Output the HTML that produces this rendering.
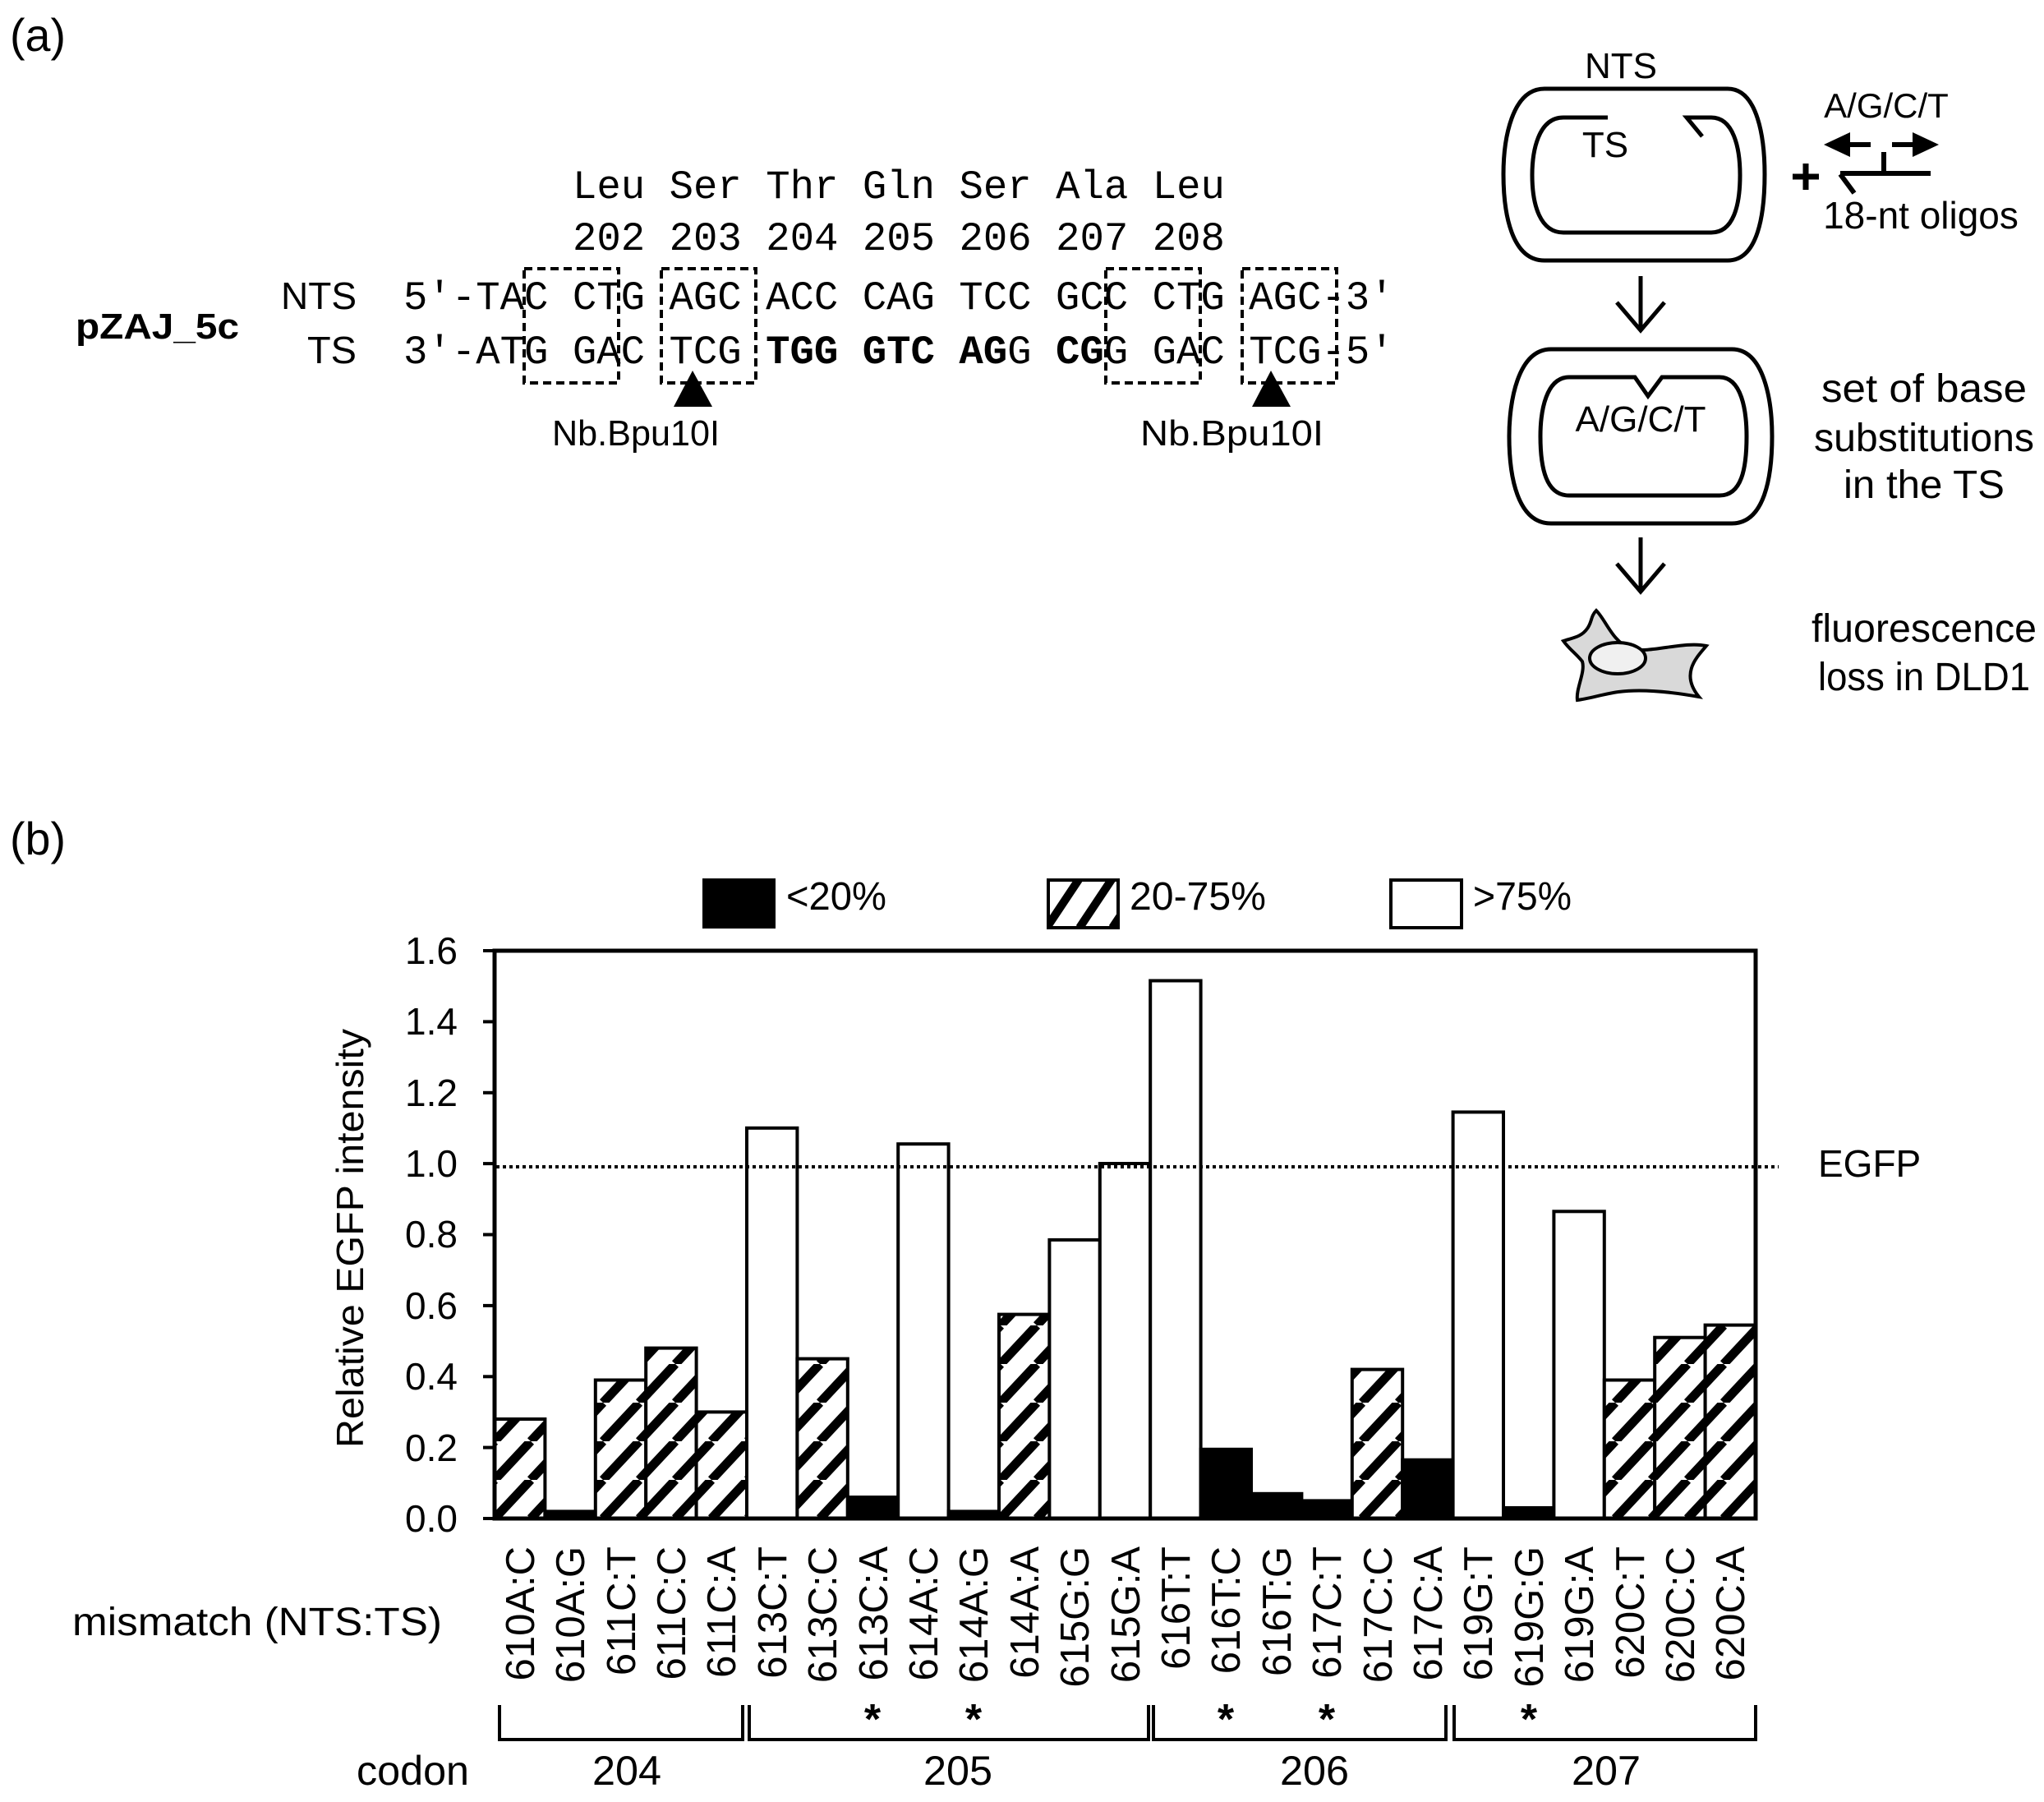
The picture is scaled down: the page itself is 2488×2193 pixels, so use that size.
<!DOCTYPE html>
<html><head><meta charset="utf-8"><style>html,body{margin:0;padding:0;background:#fff}svg{display:block}</style></head>
<body>
<svg xmlns="http://www.w3.org/2000/svg" width="2488" height="2193" viewBox="0 0 2488 2193" font-family="'Liberation Sans', Arial, sans-serif">
<defs>
<pattern id="h" patternUnits="userSpaceOnUse" width="44" height="47" x="602" y="1848">
<rect width="44" height="47" fill="#fff"/>
<path d="M0,47 L44,0 M-44,47 L0,0 M44,47 L88,0" stroke="#000" stroke-width="11"/>
</pattern>
<pattern id="h2" patternUnits="userSpaceOnUse" width="40" height="60" x="1274" y="1069">
<rect width="40" height="60" fill="#fff"/>
<path d="M0,60 L40,0 M-40,60 L0,0 M40,60 L80,0" stroke="#000" stroke-width="10"/>
</pattern>
</defs>
<rect width="2488" height="2193" fill="#fff"/>

<text x="12" y="62" font-size="56" textLength="68" lengthAdjust="spacingAndGlyphs">(a)</text>
<g font-family="'Liberation Mono', 'Courier New', monospace" font-size="49">
<text x="697" y="241" xml:space="preserve">Leu Ser Thr Gln Ser Ala Leu</text>
<text x="697" y="304" xml:space="preserve">202 203 204 205 206 207 208</text>
<text x="491" y="376" xml:space="preserve">5′-TAC CTG AGC ACC CAG TCC GCC CTG AGC-3′</text>
<text x="491" y="442" xml:space="preserve">3′-ATG GAC TCG <tspan font-weight="bold">TGG GTC AG</tspan>G <tspan font-weight="bold">CG</tspan>G GAC TCG-5′</text>
</g>
<text x="342" y="376" font-size="46" textLength="92" lengthAdjust="spacingAndGlyphs">NTS</text>
<text x="374" y="442" font-size="46" textLength="60" lengthAdjust="spacingAndGlyphs">TS</text>
<text x="92" y="412" font-size="44" font-weight="bold" textLength="199" lengthAdjust="spacingAndGlyphs">pZAJ_5c</text>
<g fill="none" stroke="#000" stroke-width="4" stroke-dasharray="10,6">
<rect x="638" y="327" width="115" height="139"/>
<rect x="805" y="327" width="115" height="139"/>
<rect x="1346" y="327" width="115" height="139"/>
<rect x="1512" y="327" width="115" height="139"/>
</g>
<polygon points="843,451 820,495 867,495" fill="#000"/>
<polygon points="1547,451 1524,495 1571,495" fill="#000"/>
<text x="672" y="542" font-size="44" textLength="204" lengthAdjust="spacingAndGlyphs">Nb.Bpu10I</text>
<text x="1388" y="542" font-size="44" textLength="223" lengthAdjust="spacingAndGlyphs">Nb.Bpu10I</text>

<g fill="none" stroke="#000" stroke-width="5">
<path d="M1880,108 H2103 C2140,108 2148,170 2148,212 C2148,260 2140,317 2103,317 H1880 C1840,317 1830,260 1830,212 C1830,170 1840,108 1880,108 Z"/>
<path d="M1957,143 H1903 C1872,143 1865,185 1865,213 C1865,250 1875,283 1903,283 H2083 C2110,283 2118,250 2118,213 C2118,180 2110,143 2083,143 H2053 L2072,166"/>
<path d="M1888,425 H2108 C2148,425 2157,490 2157,531 C2157,580 2148,637 2108,637 H1888 C1847,637 1837,580 1837,531 C1837,490 1847,425 1888,425 Z"/>
<path d="M1910,459 H1990 L2006,482 L2023,459 H2093 C2120,459 2126,500 2126,531 C2126,570 2120,603 2093,603 H1910 C1882,603 1875,570 1875,531 C1875,500 1882,459 1910,459 Z"/>
<path d="M1997,336 V402 M1968,368 L1997,402 L2026,368"/>
<path d="M1997,654 V720 M1968,686 L1997,720 L2026,686"/>
<path d="M2240,211 H2350 M2293,185 V211 M2240,212 L2257,235" stroke-width="6"/>
<path d="M2250,176 H2277 M2303,176 H2330" stroke-width="6"/>
</g>
<polygon points="2220,176 2252,161 2252,191" fill="#000"/>
<polygon points="2360,176 2328,161 2328,191" fill="#000"/>
<path d="M2182,215 H2214 M2198,199 V231" stroke="#000" stroke-width="7"/>
<path d="M1943,743 C1955,755 1962,780 1985,790 C2010,795 2050,780 2077,786 C2065,800 2045,820 2068,848 C2040,843 2000,838 1970,842 C1950,845 1935,850 1920,852 C1918,838 1930,818 1926,805 C1918,795 1910,790 1903,780 C1915,776 1925,775 1932,765 C1938,757 1936,750 1943,743 Z" fill="#d9d9d9" stroke="#000" stroke-width="4"/>
<ellipse cx="1969" cy="801" rx="34" ry="19" fill="#f0f0f0" stroke="#000" stroke-width="4"/>
<g font-size="44" text-anchor="middle">
<text x="1973" y="95">NTS</text>
<text x="1954" y="191">TS</text>
<text x="1997" y="525">A/G/C/T</text>
<text x="2296" y="143" font-size="42">A/G/C/T</text>
<text x="2338" y="278" font-size="46">18-nt oligos</text>
<text x="2342" y="489" font-size="48" textLength="250" lengthAdjust="spacingAndGlyphs">set of base</text>
<text x="2342" y="549" font-size="48" textLength="268" lengthAdjust="spacingAndGlyphs">substitutions</text>
<text x="2342" y="606" font-size="48" textLength="196" lengthAdjust="spacingAndGlyphs">in the TS</text>
<text x="2342" y="781" font-size="48" textLength="274" lengthAdjust="spacingAndGlyphs">fluorescence</text>
<text x="2342" y="840" font-size="48" textLength="258" lengthAdjust="spacingAndGlyphs">loss in DLD1</text>
</g>

<text x="12" y="1040" font-size="56" textLength="68" lengthAdjust="spacingAndGlyphs">(b)</text>
<rect x="855" y="1069" width="89" height="61" fill="#000"/>
<rect x="1276" y="1071" width="85" height="58" fill="url(#h2)" stroke="#000" stroke-width="4"/>
<rect x="1693" y="1071" width="86" height="58" fill="#fff" stroke="#000" stroke-width="4"/>
<g font-size="48">
<text x="957" y="1107" textLength="122" lengthAdjust="spacingAndGlyphs">&lt;20%</text>
<text x="1375" y="1107" textLength="166" lengthAdjust="spacingAndGlyphs">20-75%</text>
<text x="1793" y="1107" textLength="120" lengthAdjust="spacingAndGlyphs">&gt;75%</text>
</g>

<g stroke="#000" stroke-width="4">
<rect x="602.0" y="1727.0" width="61.4" height="121.0" fill="url(#h)"/>
<rect x="663.4" y="1839.4" width="61.4" height="8.6" fill="#000"/>
<rect x="724.8" y="1679.5" width="61.4" height="168.5" fill="url(#h)"/>
<rect x="786.2" y="1640.6" width="61.4" height="207.4" fill="url(#h)"/>
<rect x="847.6" y="1718.4" width="61.4" height="129.6" fill="url(#h)"/>
<rect x="909.0" y="1372.8" width="61.4" height="475.2" fill="#fff"/>
<rect x="970.4" y="1653.6" width="61.4" height="194.4" fill="url(#h)"/>
<rect x="1031.8" y="1822.1" width="61.4" height="25.9" fill="#000"/>
<rect x="1093.2" y="1392.2" width="61.4" height="455.8" fill="#fff"/>
<rect x="1154.6" y="1839.4" width="61.4" height="8.6" fill="#000"/>
<rect x="1216.0" y="1599.6" width="61.4" height="248.4" fill="url(#h)"/>
<rect x="1277.4" y="1508.9" width="61.4" height="339.1" fill="#fff"/>
<rect x="1338.8" y="1416.0" width="61.4" height="432.0" fill="#fff"/>
<rect x="1400.2" y="1193.5" width="61.4" height="654.5" fill="#fff"/>
<rect x="1461.6" y="1763.8" width="61.4" height="84.2" fill="#000"/>
<rect x="1523.0" y="1817.8" width="61.4" height="30.2" fill="#000"/>
<rect x="1584.4" y="1826.4" width="61.4" height="21.6" fill="#000"/>
<rect x="1645.8" y="1666.6" width="61.4" height="181.4" fill="url(#h)"/>
<rect x="1707.2" y="1776.7" width="61.4" height="71.3" fill="#000"/>
<rect x="1768.6" y="1353.4" width="61.4" height="494.6" fill="#fff"/>
<rect x="1830.0" y="1835.0" width="61.4" height="13.0" fill="#000"/>
<rect x="1891.4" y="1474.3" width="61.4" height="373.7" fill="#fff"/>
<rect x="1952.8" y="1679.5" width="61.4" height="168.5" fill="url(#h)"/>
<rect x="2014.2" y="1627.7" width="61.4" height="220.3" fill="url(#h)"/>
<rect x="2075.6" y="1612.6" width="61.4" height="235.4" fill="url(#h)"/>
</g>
<line x1="604" y1="1420" x2="2165" y2="1420" stroke="#000" stroke-width="4" stroke-dasharray="4,4"/>
<text x="2213" y="1432" font-size="46">EGFP</text>
<rect x="602" y="1157" width="1535" height="691" fill="none" stroke="#000" stroke-width="5"/>
<g stroke="#000" stroke-width="4">
<line x1="588" y1="1157" x2="602" y2="1157"/><line x1="588" y1="1243.4" x2="602" y2="1243.4"/>
<line x1="588" y1="1329.8" x2="602" y2="1329.8"/><line x1="588" y1="1416.1" x2="602" y2="1416.1"/>
<line x1="588" y1="1502.5" x2="602" y2="1502.5"/><line x1="588" y1="1588.9" x2="602" y2="1588.9"/>
<line x1="588" y1="1675.3" x2="602" y2="1675.3"/><line x1="588" y1="1761.6" x2="602" y2="1761.6"/>
<line x1="588" y1="1848" x2="602" y2="1848"/>
</g>
<g font-size="46" text-anchor="end">
<text x="557" y="1173">1.6</text><text x="557" y="1259">1.4</text><text x="557" y="1346">1.2</text>
<text x="557" y="1432">1.0</text><text x="557" y="1518">0.8</text><text x="557" y="1605">0.6</text>
<text x="557" y="1691">0.4</text><text x="557" y="1778">0.2</text><text x="557" y="1864">0.0</text>
</g>
<text transform="translate(442,1507) rotate(-90)" font-size="46" text-anchor="middle" textLength="510" lengthAdjust="spacingAndGlyphs">Relative EGFP intensity</text>

<g font-size="49" text-anchor="end">
<text transform="translate(650,1882) rotate(-90)">610A:C</text>
<text transform="translate(711,1882) rotate(-90)">610A:G</text>
<text transform="translate(773,1882) rotate(-90)">611C:T</text>
<text transform="translate(834,1882) rotate(-90)">611C:C</text>
<text transform="translate(895,1882) rotate(-90)">611C:A</text>
<text transform="translate(957,1882) rotate(-90)">613C:T</text>
<text transform="translate(1018,1882) rotate(-90)">613C:C</text>
<text transform="translate(1080,1882) rotate(-90)">613C:A</text>
<text transform="translate(1141,1882) rotate(-90)">614A:C</text>
<text transform="translate(1202,1882) rotate(-90)">614A:G</text>
<text transform="translate(1264,1882) rotate(-90)">614A:A</text>
<text transform="translate(1325,1882) rotate(-90)">615G:G</text>
<text transform="translate(1387,1882) rotate(-90)">615G:A</text>
<text transform="translate(1448,1882) rotate(-90)">616T:T</text>
<text transform="translate(1509,1882) rotate(-90)">616T:C</text>
<text transform="translate(1571,1882) rotate(-90)">616T:G</text>
<text transform="translate(1632,1882) rotate(-90)">617C:T</text>
<text transform="translate(1694,1882) rotate(-90)">617C:C</text>
<text transform="translate(1755,1882) rotate(-90)">617C:A</text>
<text transform="translate(1816,1882) rotate(-90)">619G:T</text>
<text transform="translate(1878,1882) rotate(-90)">619G:G</text>
<text transform="translate(1939,1882) rotate(-90)">619G:A</text>
<text transform="translate(2001,1882) rotate(-90)">620C:T</text>
<text transform="translate(2062,1882) rotate(-90)">620C:C</text>
<text transform="translate(2123,1882) rotate(-90)">620C:A</text>
</g>
<text x="88" y="1990" font-size="48" textLength="450" lengthAdjust="spacingAndGlyphs">mismatch (NTS:TS)</text>

<g fill="none" stroke="#000" stroke-width="4">
<path d="M608,2075 V2117 H904 V2075"/>
<path d="M912,2075 V2117 H1398 V2075"/>
<path d="M1404,2075 V2117 H1760 V2075"/>
<path d="M1770,2075 V2117 H2137 V2075"/>
</g>
<g font-size="52" font-weight="bold" text-anchor="middle">
<text x="1062" y="2110">*</text><text x="1185" y="2110">*</text>
<text x="1492" y="2110">*</text><text x="1615" y="2110">*</text>
<text x="1861" y="2110">*</text>
</g>
<g font-size="50">
<text x="434" y="2172" textLength="137" lengthAdjust="spacingAndGlyphs">codon</text>
<text x="721" y="2172" textLength="84" lengthAdjust="spacingAndGlyphs">204</text>
<text x="1124" y="2172" textLength="84" lengthAdjust="spacingAndGlyphs">205</text>
<text x="1558" y="2172" textLength="84" lengthAdjust="spacingAndGlyphs">206</text>
<text x="1913" y="2172" textLength="84" lengthAdjust="spacingAndGlyphs">207</text>
</g>
</svg>
</body></html>
